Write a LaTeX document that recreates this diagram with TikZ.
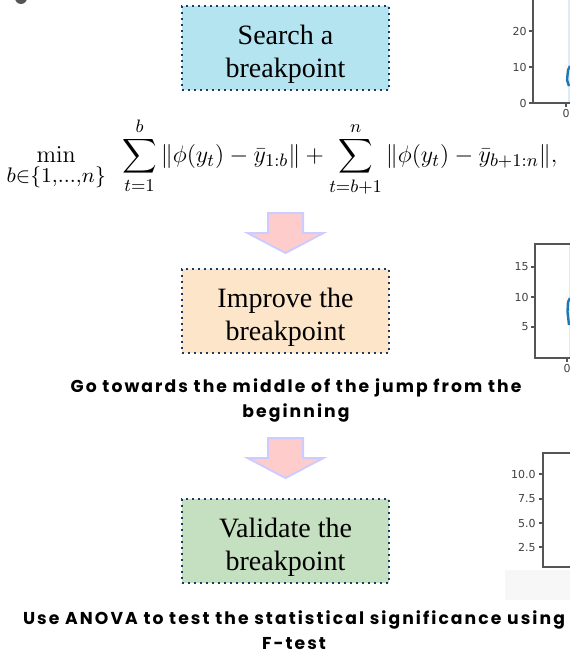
\documentclass[tikz,border=0pt]{standalone}
\usepackage{amsmath}
\usepackage[no-math]{fontspec}
\setmainfont{Liberation Serif}
\newfontfamily\notefont[LetterSpace=12]{Poppins}
\newfontfamily\tickfont{DejaVu Sans}
\definecolor{searchblue}{HTML}{B4E4EF}
\definecolor{improveorange}{HTML}{FCE5C8}
\definecolor{validgreen}{HTML}{C5E0C0}
\definecolor{boxline}{HTML}{1F3A60}
\definecolor{arrowfill}{HTML}{FFCCCC}
\definecolor{arrowline}{HTML}{CCCCFF}
\definecolor{axisgray}{HTML}{555555}
\definecolor{tickgray}{HTML}{404040}
\definecolor{bandblue}{HTML}{DDEBF7}
\definecolor{curveblue}{HTML}{1F77B4}
\newcommand{\flowarrow}[1]{
    \draw[flowarrow,shift={(#1)}] (-17.5,0) -- (17.5,0) -- (17.5,20) -- (38,20)
        -- (0,40) -- (-38,20) -- (-17.5,20) -- cycle;
}
\newcommand{\lowstrut}{\rule{0pt}{16pt}}

\begin{document}
\begin{tikzpicture}[x=0.5pt,y=-0.5pt,
    stepbox/.style={draw=boxline, line width=1pt, dash pattern=on 1pt off 2pt,
        minimum width=103.5pt, minimum height=42pt, inner sep=0pt, align=center,
        font=\fontsize{14}{16.5}\selectfont},
    note/.style={align=center, font=\notefont\bfseries\fontsize{8.6}{12.5}\selectfont},
    axis/.style={draw=axisgray, line width=0.6pt},
    ticklab/.style={font=\tickfont\fontsize{5.5}{6.5}\selectfont, text=tickgray,
        anchor=east, inner sep=0pt},
    flowarrow/.style={fill=arrowfill, draw=arrowline, line width=1pt}]
    \useasboundingbox (0,0) rectangle (569,653);

    % steps
    \node[stepbox, fill=searchblue] (search) at (285.5,48) {\lowstrut Search a\\breakpoint};
    \node[stepbox, fill=improveorange] (improve) at (285.5,310.5) {\lowstrut Improve the\\breakpoint};
    \node[stepbox, fill=validgreen] (validate) at (285.5,540.5) {\lowstrut Validate the\\breakpoint};

    \node[font=\fontsize{12.4}{14}\selectfont] (objective) at (282,157)
        {$\displaystyle \min_{\scalebox{1.17}{$\scriptstyle b\in\{1,\ldots,n\}$}}\ \ \sum_{t=1}^{b}\|\phi(y_t)-\bar{y}_{1:b}\|
        + \sum_{t=b+1}^{n}\|\phi(y_t)-\bar{y}_{b+1:n}\|,$};

    \node[note] (jumpnote) at (296,400) {Go towards the middle of the jump from the\\beginning};
    \node[note] (anovanote) at (294,630) {Use ANOVA to test the statistical significance using\\F-test};

    \flowarrow{285.5,213}
    \flowarrow{285.5,438}

    % plots cut by the right edge
    \fill[bandblue] (567.5,-5) rectangle (575,102.5);
    \fill[bandblue] (568.5,244.5) rectangle (575,357.5);
    \fill[black!3] (505,570) rectangle (575,600);
    \fill[axisgray] (21,-2) ellipse [x radius=6, y radius=6];

    \draw[axis] (533,-5) -- (533,103) -- (575,103);
    \foreach \ty/\lab [count=\i] in {31/20,67/10,103/0}{
        \draw[axis] (529,\ty) -- (533,\ty);
        \node[ticklab] (pa\i) at (527,\ty) {\lab};
    }
    \draw[axis] (566,103) -- (566,107);
    \node[ticklab, anchor=north] (pax) at (566,109) {0};
    \draw[curveblue, line width=1.2pt] (569,86) -- (567,80) -- (568,70) -- (570,66);

    \draw[axis] (575,244) -- (535,244) -- (535,358) -- (575,358);
    \foreach \ty/\lab [count=\i] in {267/15,297/10,327/5}{
        \draw[axis] (531,\ty) -- (535,\ty);
        \node[ticklab] (pb\i) at (529,\ty) {\lab};
    }
    \draw[axis] (567,358) -- (567,362);
    \node[ticklab, anchor=north] (pbx) at (567,364) {0};
    \draw[curveblue, line width=1.2pt] (569,325) -- (567.5,312) -- (568,302) -- (570,298);

    \draw[axis] (575,453) -- (543,453) -- (543,567) -- (575,567);
    \foreach \ty/\lab [count=\i] in {474/10.0,499/7.5,523/5.0,547/2.5}{
        \draw[axis] (539,\ty) -- (543,\ty);
        \node[ticklab] (pc\i) at (536,\ty) {\lab};
    }
\end{tikzpicture}
\end{document}
